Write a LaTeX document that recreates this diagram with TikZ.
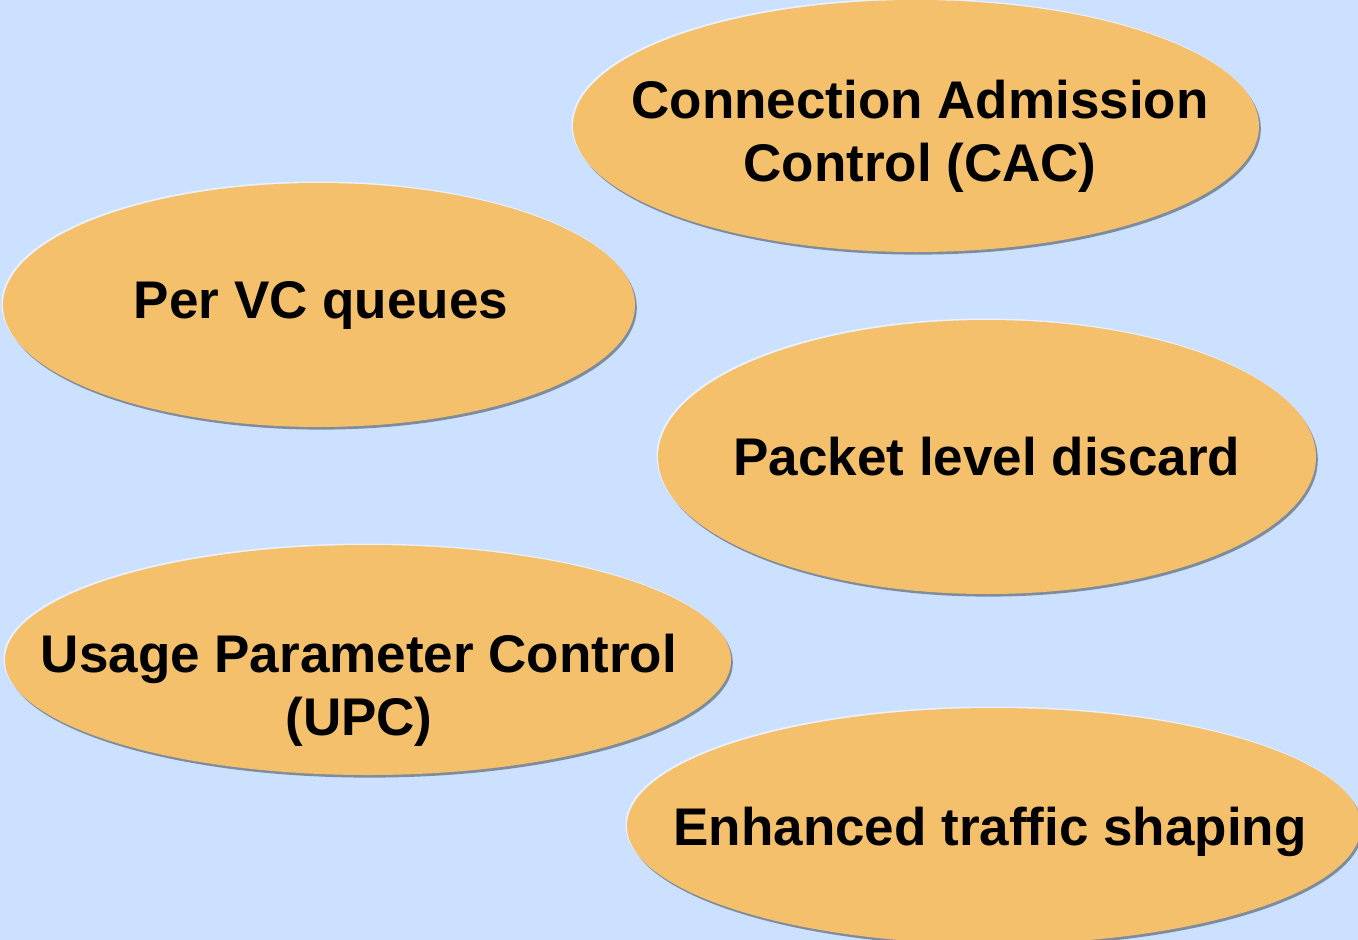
\documentclass[tikz,border=0pt]{standalone}
\usepackage{fontspec}
\setmainfont{Liberation Sans}
\usetikzlibrary{shapes.geometric}
\usetikzlibrary{shadows}
\usetikzlibrary{positioning}
\definecolor{bgblue}{HTML}{CCE0FF}
\definecolor{blob}{HTML}{F4C06C}
\definecolor{rim}{HTML}{7F8C9C}
\definecolor{gloss}{HTML}{EAF2FF}

\begin{document}
\begin{tikzpicture}[x=1pt,y=-1pt,
  blob/.style={ellipse,fill=blob,inner sep=0pt,
    general shadow={shadow xshift=1.8pt,shadow yshift=-2.6pt,fill=rim},
    general shadow={shadow xshift=-1.5pt,shadow yshift=1.5pt,fill=gloss}},
  caption/.style={inner sep=0pt,align=center,
    font=\fontsize{53}{63}\selectfont\bfseries}]
  \fill[bgblue] (0,0) rectangle (1358,940);
  \useasboundingbox (0,0) rectangle (1358,940);
  \node[blob,minimum width=686pt,minimum height=252pt](cac) at (916,126) {};
  \node[blob,minimum width=632pt,minimum height=244pt](vcq) at (319,305) {};
  \node[blob,minimum width=658pt,minimum height=274pt](pld) at (987,457) {};
  \node[blob,minimum width=726pt,minimum height=230pt](upc) at (368,660) {};
  \node[blob,minimum width=734pt,minimum height=236pt](ets) at (994,826) {};
  \node[caption](cactext) at (920,136) {Connection Admission\\Control (CAC)};
  \node[caption](vcqtext) at (321,305) {Per VC queues};
  \node[caption](pldtext) at (987,457) {Packet level discard};
  \node[caption](upctext) at (359,690) {Usage Parameter Control\\(UPC)};
  \node[caption](etstext) at (990,832) {Enhanced traffic shaping};
\end{tikzpicture}
\end{document}
